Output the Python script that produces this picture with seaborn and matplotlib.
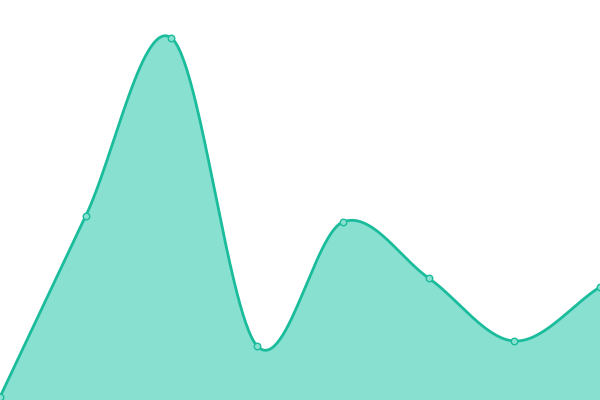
import numpy as np
import pandas as pd
import matplotlib
matplotlib.use("Agg")
import matplotlib.pyplot as plt
import seaborn as sns

categories = [0, 1, 2, 3, 4, 5, 6, 7]
values = [3, 184, 362, 54, 178, 122, 59, 113]

line_color = "#1abc9c"
fill_color = "#88e0d0"

def catmull_rom(xs, ys, n=60):
    xs = np.asarray(xs, float); ys = np.asarray(ys, float)
    px = np.concatenate([[2*xs[0]-xs[1]], xs, [2*xs[-1]-xs[-2]]])
    py = np.concatenate([[2*ys[0]-ys[1]], ys, [2*ys[-1]-ys[-2]]])
    ox, oy = [], []
    for i in range(1, len(px)-2):
        t = np.linspace(0, 1, n, endpoint=(i == len(px)-3))
        p0, p1, p2, p3 = py[i-1], py[i], py[i+1], py[i+2]
        q0, q1, q2, q3 = px[i-1], px[i], px[i+1], px[i+2]
        f = lambda a0, a1, a2, a3: 0.5*((2*a1) + (-a0+a2)*t + (2*a0-5*a1+4*a2-a3)*t**2 + (-a0+3*a1-3*a2+a3)*t**3)
        ox.append(f(q0, q1, q2, q3)); oy.append(f(p0, p1, p2, p3))
    return np.concatenate(ox), np.concatenate(oy)

sx, sy = catmull_rom(categories, values)
smooth = pd.DataFrame({"x": sx, "y": sy})
pts = pd.DataFrame({"x": categories, "y": values})

sns.set_style("white")
fig = plt.figure(figsize=(6, 4), dpi=100)
ax = fig.add_axes([0, 0, 1, 1])
ax.fill_between(smooth["x"], smooth["y"], 0, color=fill_color, linewidth=0)
sns.lineplot(data=smooth, x="x", y="y", ax=ax, color=line_color, linewidth=2.0, sort=False)
sns.scatterplot(data=pts, x="x", y="y", ax=ax, s=22, color=fill_color, edgecolor=line_color, linewidth=1.0, zorder=5, clip_on=False)
ax.set_xlim(0, 7)
ax.set_ylim(0, 400)
ax.axis("off")
fig.savefig("out.png", dpi=100)
